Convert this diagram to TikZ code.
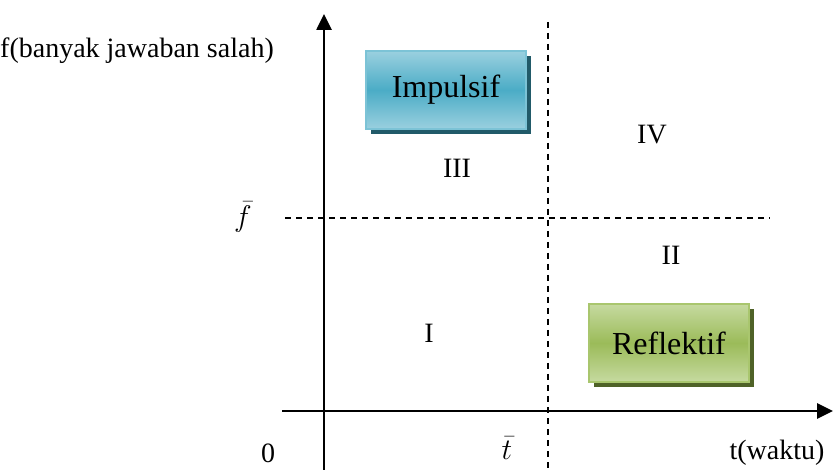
\documentclass[tikz,border=0pt]{standalone}
\usepackage{graphicx}
\usepackage{fontspec}
\setmainfont{Liberation Serif}
\usetikzlibrary{arrows.meta,shadows}
\definecolor{aquatop}{HTML}{9AD0DF}
\definecolor{aquamid}{HTML}{4BACC6}
\definecolor{aquaedge}{HTML}{7CC3D6}
\definecolor{aquadark}{HTML}{215A69}
\definecolor{olivetop}{HTML}{C6DAA0}
\definecolor{olivemid}{HTML}{9BBB59}
\definecolor{oliveedge}{HTML}{A9C66E}
\definecolor{olivedark}{HTML}{4F6228}
\newcommand{\bigmean}[1]{\scalebox{1.2}{$\bar{#1}$}}
\begin{document}
\begin{tikzpicture}[x=1pt,y=-1pt,>={Triangle[length=16pt,width=15pt]},
  lbl/.style={font=\fontsize{28}{32}\selectfont,inner sep=0pt},
  boxlbl/.style={font=\fontsize{32}{36}\selectfont},
  axis/.style={line width=2.6pt},
  guide/.style={line width=1.4pt,dash pattern=on 6pt off 5pt},
  stylebox/.style n args={4}{draw=#3,line width=2.4pt,minimum width=160pt,minimum height=78pt,
    top color=#1,bottom color=#1,middle color=#2,
    drop shadow={fill=#4,opacity=1,shadow xshift=5pt,shadow yshift=-5pt},boxlbl}]
\useasboundingbox (0,0) rectangle (833,470);
% axes
\coordinate (ytop) at (324,14);
\coordinate (ybot) at (324,470);
\coordinate (xleft) at (282,411);
\coordinate (xright) at (833,411);
\draw[axis,->] (ybot) -- (ytop);
\draw[axis,->] (xleft) -- (xright);
% mean lines
\coordinate (tbtop) at (548,22);
\coordinate (tbbot) at (548,470);
\coordinate (fbleft) at (285,218);
\coordinate (fbright) at (770,218);
\draw[guide] (tbtop) -- (tbbot);
\draw[guide] (fbleft) -- (fbright);
% labels
\node[lbl] (ylab) at (137,51) {f(banyak jawaban salah)};
\node[lbl] (fbar) at (243,217) {\bigmean{f}};
\node[lbl] (zero) at (268,453) {0};
\node[lbl] (tbar) at (507,448) {\bigmean{t}};
\node[lbl] (xlab) at (777,453) {t(waktu)};
\node[lbl] (q3) at (457,168) {III};
\node[lbl] (q4) at (652,135) {IV};
\node[lbl] (q2) at (671,255) {II};
\node[lbl] (q1) at (429,333) {I};
% boxes
\node[stylebox={aquatop}{aquamid}{aquaedge}{aquadark}] (impulsif) at (446,90) {Impulsif};
\node[stylebox={olivetop}{olivemid}{oliveedge}{olivedark}] (reflektif) at (669,343) {Reflektif};
\end{tikzpicture}
\end{document}
